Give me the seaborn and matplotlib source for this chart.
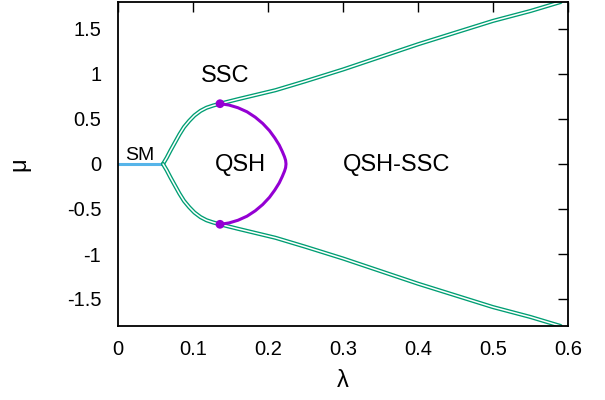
import matplotlib
matplotlib.use("Agg")
import matplotlib.pyplot as plt
import seaborn as sns
import pandas as pd

sns.set_theme(style="white")
plt.rcParams['font.family'] = ['Liberation Sans', 'DejaVu Sans']
plt.rcParams['text.color'] = 'black'
plt.rcParams['axes.labelcolor'] = 'black'

# SM line (mu = 0 for small lambda)
sm_lam = [0.0, 0.06]
sm_mu = [0.0, 0.0]

# upper SSC boundary
up_lam = [0.060, 0.065, 0.070, 0.076, 0.082, 0.088, 0.095, 0.102, 0.110, 0.118, 0.127, 0.136,
          0.160, 0.185, 0.210, 0.250, 0.300, 0.350, 0.400, 0.450, 0.500, 0.550, 0.590]
up_mu = [0.00, 0.07, 0.15, 0.24, 0.33, 0.41, 0.48, 0.54, 0.59, 0.625, 0.65, 0.67,
         0.72, 0.77, 0.82, 0.92, 1.05, 1.19, 1.33, 1.46, 1.59, 1.70, 1.80]

# lower SSC boundary
lo_lam = [0.060, 0.065, 0.070, 0.076, 0.082, 0.088, 0.095, 0.102, 0.110, 0.118, 0.127, 0.136,
          0.160, 0.185, 0.210, 0.250, 0.300, 0.350, 0.400, 0.450, 0.500, 0.550, 0.590]
lo_mu = [0.00, -0.07, -0.15, -0.24, -0.33, -0.41, -0.48, -0.54, -0.59, -0.625, -0.65, -0.67,
         -0.72, -0.77, -0.82, -0.92, -1.05, -1.19, -1.33, -1.46, -1.59, -1.70, -1.80]

# QSH / QSH-SSC boundary
qsh_lam = [0.136, 0.148, 0.160, 0.172, 0.183, 0.193, 0.202, 0.209, 0.215, 0.219, 0.2220, 0.2235, 0.224,
           0.2235, 0.2220, 0.219, 0.215, 0.209, 0.202, 0.193, 0.183, 0.172, 0.160, 0.148, 0.136]
qsh_mu = [0.67, 0.655, 0.625, 0.58, 0.52, 0.45, 0.37, 0.29, 0.21, 0.14, 0.08, 0.04, 0.00,
          -0.04, -0.08, -0.14, -0.21, -0.29, -0.37, -0.45, -0.52, -0.58, -0.625, -0.655, -0.67]

# tricritical points
pt_lam = [0.136, 0.136]
pt_mu = [0.67, -0.67]

xticks = [0, 0.1, 0.2, 0.3, 0.4, 0.5, 0.6]
xticklabels = ["0", "0.1", "0.2", "0.3", "0.4", "0.5", "0.6"]
yticks = [-1.5, -1, -0.5, 0, 0.5, 1, 1.5]
yticklabels = ["-1.5", "-1", "-0.5", "0", "0.5", "1", "1.5"]

teal = "#009e73"
blue = "#56b4e9"
purple = "#9400d3"

fig = plt.figure(figsize=(6.05, 4.0), dpi=100)
ax = fig.add_axes([118/605, 74/400, 450/605, 324/400])

sm_df = pd.DataFrame({"lam": sm_lam, "mu": sm_mu})
sns.lineplot(data=sm_df, x="lam", y="mu", sort=False, estimator=None,
             color=blue, lw=2.2, ax=ax)

for lam, mu in [(up_lam, up_mu), (lo_lam, lo_mu)]:
    df = pd.DataFrame({"lam": lam, "mu": mu})
    sns.lineplot(data=df, x="lam", y="mu", sort=False, estimator=None,
                 color=teal, lw=3.0, ax=ax)
    sns.lineplot(data=df, x="lam", y="mu", sort=False, estimator=None,
                 color="white", lw=1.1, ax=ax)

q_df = pd.DataFrame({"lam": qsh_lam, "mu": qsh_mu})
sns.lineplot(data=q_df, x="lam", y="mu", sort=False, estimator=None,
             color=purple, lw=2.2, ax=ax)

p_df = pd.DataFrame({"lam": pt_lam, "mu": pt_mu})
sns.scatterplot(data=p_df, x="lam", y="mu", color=purple, s=40,
                edgecolor="none", zorder=5, ax=ax)

ax.text(0.143, 0.98, "SSC", fontsize=17, ha="center", va="center")
ax.text(0.163, -0.01, "QSH", fontsize=17, ha="center", va="center")
ax.text(0.372, -0.01, "QSH-SSC", fontsize=17, ha="center", va="center")
ax.text(0.029, 0.09, "SM", fontsize=14, ha="center", va="center")

ax.set_xlim(0, 0.6)
ax.set_ylim(-1.8, 1.8)
ax.set_xticks(xticks)
ax.set_xticklabels(xticklabels)
ax.set_yticks(yticks)
ax.set_yticklabels(yticklabels)
ax.tick_params(direction="in", length=7, width=1.0, labelsize=14.5,
               top=True, right=True, colors="black")
ax.tick_params(axis="y", pad=12)
ax.tick_params(axis="x", pad=10)
for s in ax.spines.values():
    s.set_visible(True)
    s.set_color("black")
    s.set_linewidth(1.3)

ax.set_xlabel("λ", fontsize=17, labelpad=8)
ax.set_ylabel("μ", fontsize=17, labelpad=26)
ax.grid(False)

fig.savefig("out.png", dpi=100)
